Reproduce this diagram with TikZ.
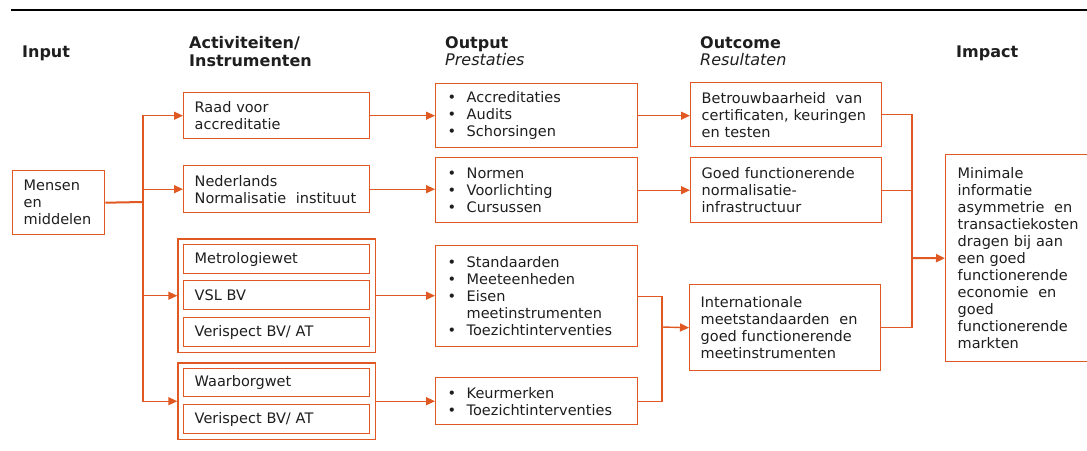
\documentclass[tikz,border=0pt]{standalone}
\usepackage{fontspec}
\setmainfont{DejaVu Sans}
\usetikzlibrary{arrows.meta,positioning,fit}
\definecolor{orng}{RGB}{224,88,34}
\definecolor{txt}{RGB}{30,30,30}
\newcommand{\bitem}{\makebox[19pt][l]{\textbullet}}

\begin{document}
\begin{tikzpicture}[x=1pt,y=-1pt]
	\tikzstyle{head} = [anchor=base west,inner sep=0,font=\fontsize{16}{18}\selectfont\bfseries,align=left,text=txt]
	\tikzstyle{sub} = [anchor=base west,inner sep=0,font=\fontsize{16}{18}\selectfont\itshape,text=txt]
	\tikzstyle{box} = [draw=orng,line width=1.4pt,anchor=north west,align=left,inner xsep=11pt,inner ysep=0pt,font=\fontsize{14.5}{17}\selectfont,text=txt]
	\tikzstyle{listbox} = [box,inner xsep=12pt,text width=178]
	\tikzstyle{grp} = [draw=orng,line width=1.4pt,inner sep=5pt]
	\tikzstyle{link} = [draw=orng,line width=1.4pt]
	\tikzstyle{myarrow} = [link,-{Triangle[length=9pt,width=8pt]}]

	\useasboundingbox (0,0) rectangle (1087,450);
	\draw [line width=1.1pt] (11,10) -- (1087,10);

	% Column heads
	\node [head] (hInput) at (22,57) {Input};
	\node [head] (hAct) at (189,66) {Activiteiten/\\Instrumenten};
	\node [head] (hOut) at (445,48) {Output};
	\node [sub] (hPrest) at (445,65) {Prestaties};
	\node [head] (hOutc) at (700,48) {Outcome};
	\node [sub] (hRes) at (700,65) {Resultaten};
	\node [head] (hImp) at (956,57) {Impact};

	% Input
	\node [box, text width=70, minimum height=64] (mensen) at (12,170) {Mensen\\en\\middelen};

	% Activities
	\node [box, text width=164, minimum height=46] (raad) at (183,92) {Raad voor\\accreditatie};
	\node [box, text width=164, minimum height=47] (nen) at (183,165) {Nederlands\\Normalisatie\ \ instituut};
	\node [box, text width=164, minimum height=29] (metro) at (183,244) {Metrologiewet};
	\node [box, text width=164, minimum height=29] (vsl) at (183,280) {VSL BV};
	\node [box, text width=164, minimum height=29] (verA) at (183,317) {Verispect BV/ AT};
	\node [grp, fit=(metro)(vsl)(verA)] (grpA) {};
	\node [box, text width=164, minimum height=28] (waarb) at (183,368) {Waarborgwet};
	\node [box, text width=164, minimum height=29] (verB) at (183,404) {Verispect BV/ AT};
	\node [grp, fit=(waarb)(verB)] (grpB) {};

	% Output
	\node [listbox, minimum height=64] (accr) at (435,83) {\bitem Accreditaties\\\bitem Audits\\\bitem Schorsingen};
	\node [listbox, minimum height=65] (norm) at (435,157) {\bitem Normen\\\bitem Voorlichting\\\bitem Cursussen};
	\node [listbox, minimum height=101] (stand) at (435,245) {\bitem Standaarden\\\bitem Meeteenheden\\\bitem Eisen\\\hspace*{19pt}meetinstrumenten\\\bitem Toezichtinterventies};
	\node [listbox, minimum height=47] (keur) at (435,377) {\bitem Keurmerken\\\bitem Toezichtinterventies};

	% Outcome
	\node [box, text width=169, minimum height=64] (betr) at (690,82) {Betrouwbaarheid\ \ van\\certificaten, keuringen\\en testen};
	\node [box, text width=169, minimum height=65] (goed) at (690,157) {Goed functionerende\\normalisatie-\\infrastructuur};
	\node [box, text width=169, minimum height=86] (intl) at (689,284) {Internationale\\meetstandaarden\ \ en\\goed functionerende\\meetinstrumenten};

	% Impact
	\node [box, inner xsep=12pt, text width=128, minimum height=207] (impact) at (945,154) {Minimale\\informatie\\asymmetrie\ \ en\\transactiekosten\\dragen bij aan\\een goed\\functionerende\\economie\ \ en\\goed\\functionerende\\markten};

	% Connectors
	\coordinate (bus) at (143,202);
	\coordinate (joinMeet) at (662,327);
	\coordinate (joinImp) at (912,258);
	\draw [link, line width=2pt] (mensen.east) -- (bus);
	\draw [myarrow] (bus) |- (raad.west);
	\draw [myarrow] (bus) |- (nen.west);
	\draw [myarrow] (bus) |- (grpA.west);
	\draw [myarrow] (bus) |- (grpB.west);

	\draw [myarrow] (raad.east) -- (accr.west);
	\draw [myarrow] (nen.east) -- (nen.east -| norm.west);
	\draw [myarrow] (grpA.east) -- (grpA.east -| stand.west);
	\draw [myarrow] (grpB.east) -- (grpB.east -| keur.west);

	\draw [myarrow] (accr.east) -- (accr.east -| betr.west);
	\draw [myarrow] (norm.east) -- (goed.west);
	\draw [link] (stand.east) -| (joinMeet);
	\draw [link] (keur.east) -| (joinMeet);
	\draw [myarrow] (joinMeet) -- (intl.west);

	\draw [link] (betr.east) -| (joinImp);
	\draw [link] (goed.east) -| (joinImp);
	\draw [link] (intl.east) -| (joinImp);
	\draw [myarrow, line width=2pt] (joinImp) -- (impact.west);
\end{tikzpicture}
\end{document}
